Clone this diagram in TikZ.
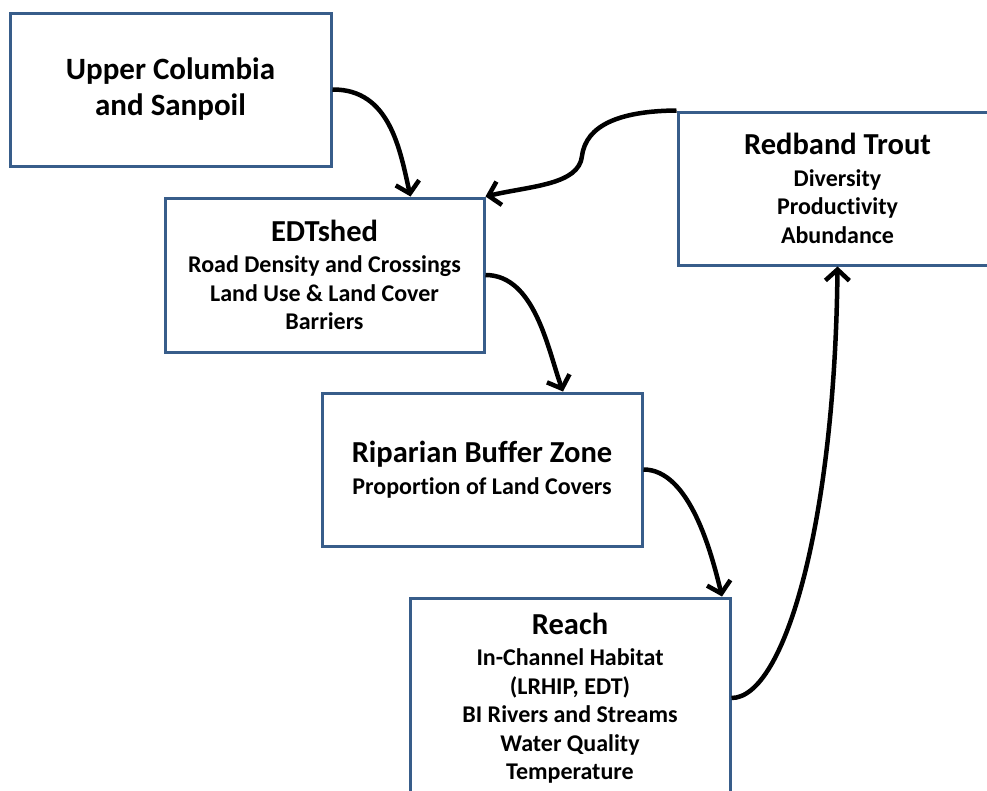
\documentclass[tikz,border=0pt]{standalone}
\usepackage{fontspec}
\setmainfont{Carlito}[Ligatures=NoCommon]
\usetikzlibrary{arrows.meta}
\definecolor{boxblue}{RGB}{56,93,138}
\newcommand{\paneltitle}[1]{{\fontsize{30.5}{36}\selectfont #1}}
\begin{document}
\begin{tikzpicture}[x=1pt,y=-1pt,
  panel/.style={draw=boxblue, line width=3pt, fill=white,
    minimum width=320pt, minimum height=154pt, inner sep=0pt,
    align=center, font=\bfseries\fontsize{24}{28.5}\selectfont},
  link/.style={line width=4.5pt, -{Straight Barb[length=11pt,width=24pt]}}]
\path[use as bounding box, clip] (0,0) rectangle (987,790);

% boxes
\node[panel, minimum width=321pt, minimum height=153pt,
      font=\bfseries\fontsize{31}{36}\selectfont] (uc) at (170.5,89.5)
  {Upper Columbia\\and Sanpoil};
\node[panel, minimum width=319pt] (edt) at (324.5,275)
  {\paneltitle{EDTshed}\\[3pt]Road Density and Crossings\\Land Use \& Land Cover\\Barriers};
\node[panel, minimum width=319pt, minimum height=153pt] (rt) at (837.5,188.5)
  {\paneltitle{Redband Trout}\\[3pt]Diversity\\Productivity\\Abundance};
\node[panel, minimum height=153pt] (rbz) at (482,469.5)
  {\paneltitle{Riparian Buffer Zone}\\[3pt]Proportion of Land Covers};
\node[panel, minimum height=200pt] (reach) at (570,698)
  {\paneltitle{Reach}\\[3pt]In-Channel Habitat\\(LRHIP, EDT)\\BI Rivers and Streams\\Water Quality\\Temperature};

% connectors
\draw[link] (uc.east) .. controls (390,89) and (400,150) .. ([xshift=86pt]edt.north);
\draw[link] (rt.north west) .. controls (620,111) and (586,125) .. (582,156)
  .. controls (579,185) and (530,186) .. (edt.north east);
\draw[link] (edt.east) .. controls (535,275) and (548,350) .. ([xshift=81pt]rbz.north);
\draw[link] (rbz.east) .. controls (690,469.5) and (712,555) .. ([xshift=152pt]reach.north);
\draw[link] (reach.east) .. controls (785,698) and (835,520) .. (rt.south);
\end{tikzpicture}
\end{document}
